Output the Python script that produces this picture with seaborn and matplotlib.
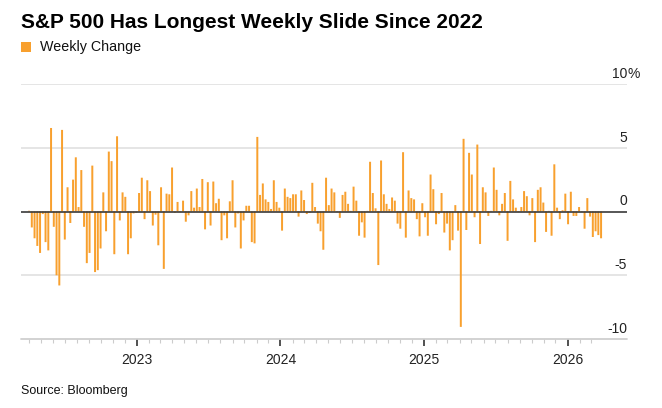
import matplotlib
matplotlib.use('Agg')
import matplotlib.pyplot as plt
import matplotlib.dates as mdates
from matplotlib.patches import Rectangle
from matplotlib.ticker import FixedLocator, NullFormatter
import numpy as np
import pandas as pd
import seaborn as sns

# weekly % change of the S&P 500, week ending Friday, first week 2022-04-01
first_week = '2022-04-01'
chg_2022 = [0.06, -1.25, -2.1, -2.7, -3.25, -0.2, -2.4, -3.05, 6.55, -1.2,
            -5.0, -5.8, 6.4, -2.2, 1.9, -0.9, 2.5, 4.25, 0.35, 3.25,
            -1.2, -4.05, -3.25, 3.6, -4.75, -4.6, -2.9, 1.5, -1.55, 4.7,
            3.95, -3.35, 5.9, -0.7, 1.5, 1.15, -3.35, -2.1, -0.15, -0.1]
chg_2023 = [1.45, 2.65, -0.6, 2.45, 1.6, -1.1, -0.25, -2.65, 1.9, -4.5,
            1.4, 1.35, 3.45, -0.1, 0.75, -0.05, 0.85, -0.8, -0.3, 1.6,
            0.3, 1.8, 0.35, 2.55, -1.4, 2.3, -1.1, 2.35, 0.65, 1.0,
            -2.25, -0.3, -2.1, 0.8, 2.45, -1.25, -0.15, -2.9, -0.7, 0.45,
            0.45, -2.4, -2.5, 5.85, 1.3, 2.2, 0.95, 0.75, 0.2, 2.45,
            0.75, 0.3]
chg_2024 = [-1.5, 1.8, 1.15, 1.05, 1.35, 1.35, -0.4, 1.65, 0.9, -0.2,
            -0.1, 2.25, 0.35, -0.95, -1.55, -3.0, 2.65, 0.5, 1.8, 1.5,
            -0.05, -0.5, 1.3, 1.55, 0.6, 0.05, 1.95, 0.85, -1.9, -0.85,
            -2.05, 0.05, 3.9, 1.45, 0.25, -4.2, 4.0, 1.35, 0.6, 0.2,
            1.1, 0.85, -0.95, -1.35, 4.65, -2.05, 1.65, 1.05, 0.95, -0.6,
            -1.95, 0.65]
chg_2025 = [-0.45, -1.9, 2.9, 1.75, -1.0, -0.2, 1.45, -1.65, -0.95, -3.05,
            -2.25, 0.5, -1.5, -9.05, 5.7, -1.45, 4.6, 2.9, -0.45, 5.25,
            -2.55, 1.9, 1.5, -0.35, 0.05, 3.45, 1.7, -0.3, 0.6, 1.45,
            -2.3, 2.4, 0.95, 0.3, -0.05, 0.35, 1.6, 1.2, -0.3, 1.05,
            -2.4, 1.7, 1.9, 0.7, -1.6, 0.05, -1.9, 3.7, 0.3, -0.6,
            0.1, 1.4]
chg_2026 = [-1.0, 1.55, -0.35, -0.35, 0.35, -0.05, -1.35, 1.05, -0.4, -2.0,
            -1.55, -1.85, -2.1]

y_ticks = [-10, -5, 0, 5, 10]
year_labels = ['2023', '2024', '2025', '2026']

ORANGE = '#f8a02e'
FONT = ['Liberation Sans', 'DejaVu Sans']


def main():
    values = chg_2022 + chg_2023 + chg_2024 + chg_2025 + chg_2026
    weeks = pd.date_range(first_week, periods=len(values), freq='W-FRI')
    df = pd.DataFrame({'x': mdates.date2num(weeks), 'chg': values})

    sns.set_style('white')
    plt.rcParams['font.family'] = FONT

    fig = plt.figure(figsize=(6.62, 4.08), dpi=100)
    ax = fig.add_axes([21 / 662, 1 - 339 / 408, 606 / 662, 255 / 408])

    sns.barplot(data=df, x='x', y='chg', native_scale=True, orient='x',
                color=ORANGE, saturation=1, width=0.72, errorbar=None,
                linewidth=0, ax=ax, zorder=2)
    # no pixel snapping, so every bar gets the same soft width
    for p in ax.patches:
        p.set_snap(False)

    ax.set_ylim(-10, 10)
    ax.set_xlim(df['x'].iloc[0] - 20.5, df['x'].iloc[-1] + 66)

    # horizontal grid
    for v in y_ticks:
        if v == 0:
            ax.axhline(v, color='#3a3a3a', lw=1.2, zorder=3)
        elif v == -10:
            ax.axhline(v, color='#cfcfcf', lw=1.3, zorder=1, clip_on=False)
        else:
            ax.axhline(v, color='#e3e3e3', lw=1.3, zorder=0)
        txt = '%d' % v
        ax.annotate(txt, xy=(1.0, v), xycoords=('axes fraction', 'data'),
                    xytext=(0, 4.5), textcoords='offset points',
                    ha='right', va='baseline', fontsize=10, color='#222222')
        if v == 10:
            ax.annotate('%', xy=(1.0, v), xycoords=('axes fraction', 'data'),
                        xytext=(0.3, 4.5), textcoords='offset points',
                        ha='left', va='baseline', fontsize=10, color='#222222')

    ax.set_yticks([])
    ax.set_xlabel('')
    ax.set_ylabel('')
    for s in ['top', 'right', 'left', 'bottom']:
        ax.spines[s].set_visible(False)

    # x axis: years and months
    years = pd.to_datetime([y + '-01-01' for y in year_labels])
    months = pd.date_range(first_week, weeks[-1], freq='MS')
    ax.xaxis.set_major_locator(FixedLocator(mdates.date2num(years)))
    ax.set_xticklabels(year_labels)
    ax.xaxis.set_minor_locator(FixedLocator(mdates.date2num(months)))
    ax.xaxis.set_minor_formatter(NullFormatter())
    ax.tick_params(axis='x', which='major', length=5, width=1.2,
                   color='#333333', pad=5, labelsize=10, labelcolor='#222222',
                   bottom=True)
    ax.tick_params(axis='x', which='minor', length=3, width=0.8,
                   color='#cccccc', bottom=True)

    # title, legend, source
    fig.text(21 / 662, 1 - 28 / 408, 'S&P 500 Has Longest Weekly Slide Since 2022',
             fontsize=15, fontweight='bold', va='baseline', color='#000000')
    fig.add_artist(Rectangle((21 / 662, 1 - 52 / 408), 10 / 662, 10 / 408,
                             transform=fig.transFigure, color=ORANGE, lw=0))
    fig.text(40 / 662, 1 - 51.5 / 408, 'Weekly Change', fontsize=10.3,
             va='baseline', color='#111111')
    fig.text(21 / 662, 1 - 394 / 408, 'Source: Bloomberg', fontsize=9,
             va='baseline', color='#111111')

    fig.savefig('out.png', dpi=100)
    plt.close('all')


if __name__ == '__main__':
    main()
